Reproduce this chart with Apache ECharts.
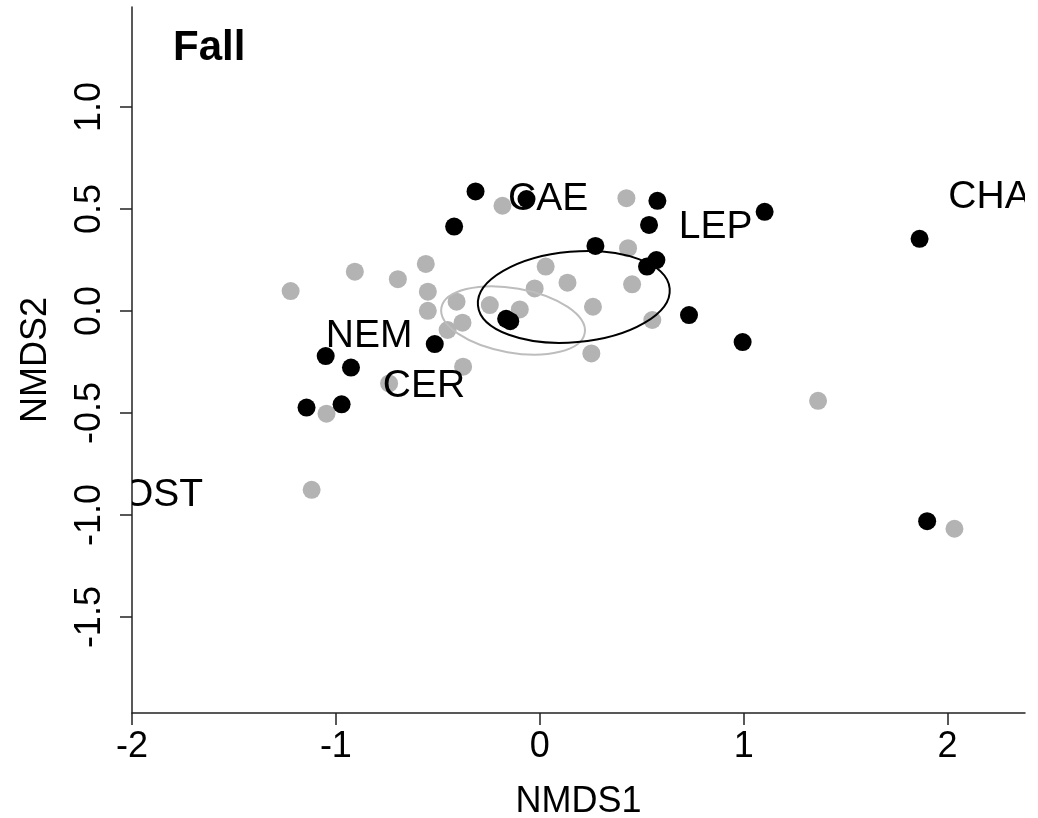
<!DOCTYPE html>
<html lang="en">
<head>
    <meta charset="UTF-8">
    <title>Fall NMDS</title>
    <script src="https://cdn.jsdelivr.net/npm/echarts@6/dist/echarts.min.js"></script>
    <style>
        body { margin: 0; background: #fff; }
        #chart { width: 1038px; height: 818px; }
    </style>
</head>
<body>
    <div id="chart"></div>
    <script>
        // site scores, grey group
        var grayX = [-1.222, -0.907, -0.696, -0.559, -0.549, -0.549, -0.408, -0.379, -0.452, -0.376,
                     -0.739, -1.046, -1.119, -0.183, 0.029, 0.136, -0.025, 0.261, -0.245, -0.098,
                     0.253, 0.425, 0.433, 0.453, 0.552, 1.365, 2.034];
        var grayY = [0.098, 0.193, 0.156, 0.231, 0.095, 0.001, 0.046, -0.057, -0.093, -0.273,
                     -0.355, -0.503, -0.876, 0.516, 0.218, 0.139, 0.111, 0.021, 0.029, 0.008,
                     -0.208, 0.553, 0.308, 0.131, -0.044, -0.44, -1.067];

        // site scores, black group
        var blackX = [-0.42, -0.315, -0.065, 0.273, -0.165, -0.145, -0.515, -1.05, -0.926, -1.144,
                      -0.972, 0.577, 0.536, 0.572, 0.526, 0.732, 0.995, 1.103, 1.863, 1.900];
        var blackY = [0.414, 0.586, 0.549, 0.319, -0.038, -0.05, -0.162, -0.221, -0.277, -0.473,
                      -0.457, 0.540, 0.422, 0.250, 0.218, -0.020, -0.152, 0.486, 0.354, -1.030];

        // species labels
        var speciesNames = ['CAE', 'LEP', 'CHA', 'NEM', 'CER', 'OST'];
        var speciesX = [0.041, 0.863, 2.206, -0.837, -0.568, -1.848];
        var speciesY = [0.549, 0.412, 0.557, -0.126, -0.367, -0.902];

        // group ellipses: centre x, centre y, semi axis a, semi axis b, angle (deg)
        var ellipseBlack = [0.167, 0.069, 0.472, 0.222, 5];
        var ellipseGray = [-0.131, -0.046, 0.357, 0.158, -10];

        var xTicks = [-2, -1, 0, 1, 2];
        var yTicks = [-1.5, -1, -0.5, 0, 0.5, 1];

        var FONT = 'Liberation Sans, Arial, sans-serif';

        function zip(xs, ys) {
            var out = [];
            for (var i = 0; i < xs.length; i++) out.push([xs[i], ys[i]]);
            return out;
        }

        function ellipseItem(params, api) {
            var c = api.coord([api.value(0), api.value(1)]);
            var s = api.size([api.value(2), api.value(3)]);
            return {
                type: 'ellipse',
                x: c[0],
                y: c[1],
                rotation: api.value(4) * Math.PI / 180,
                shape: { cx: 0, cy: 0, rx: s[0], ry: s[1] },
                style: { fill: 'none', stroke: api.visual('color'), lineWidth: 2 }
            };
        }

        var chart = echarts.init(document.getElementById('chart'));

        var axisCommon = {
            type: 'value',
            nameLocation: 'middle',
            nameTextStyle: { fontFamily: FONT, fontSize: 36, color: '#000' },
            axisLine: { show: true, onZero: false, lineStyle: { color: '#222', width: 1.5 } },
            axisTick: { show: true, length: 12, lineStyle: { color: '#222', width: 1.5 } },
            splitLine: { show: false },
            axisLabel: { fontFamily: FONT, fontSize: 36, color: '#000' }
        };

        var option = {
            animation: false,
            title: {
                text: 'Fall',
                left: 173,
                top: 27,
                padding: 0,
                textStyle: { fontFamily: FONT, fontSize: 42, fontWeight: 'bold', color: '#000' }
            },
            grid: { left: 132, right: 13, top: 7, bottom: 105, outerBoundsMode: 'none' },
            xAxis: echarts.util.merge({
                name: 'NMDS1',
                nameGap: 71,
                min: -2,
                max: 2.38,
                axisTick: { customValues: xTicks },
                axisLabel: { customValues: xTicks, margin: 16, formatter: function (v) { return String(v); } }
            }, axisCommon),
            yAxis: echarts.util.merge({
                name: 'NMDS2',
                nameGap: 78,
                min: -1.97,
                max: 1.49,
                axisTick: { customValues: yTicks },
                axisLabel: { customValues: yTicks, rotate: 90, margin: 24, formatter: function (v) { return v.toFixed(1); } }
            }, axisCommon),
            series: [
                {
                    type: 'scatter',
                    symbolSize: 18,
                    itemStyle: { color: '#b3b3b3', opacity: 1 },
                    data: zip(grayX, grayY)
                },
                {
                    type: 'scatter',
                    symbolSize: 18,
                    itemStyle: { color: '#000', opacity: 1 },
                    data: zip(blackX, blackY)
                },
                {
                    type: 'custom',
                    renderItem: ellipseItem,
                    itemStyle: { color: '#bdbdbd' },
                    data: [ellipseGray],
                    z: 3
                },
                {
                    type: 'custom',
                    renderItem: ellipseItem,
                    itemStyle: { color: '#000' },
                    data: [ellipseBlack],
                    z: 3
                },
                {
                    type: 'custom',
                    clip: true,
                    z: 4,
                    data: zip(speciesX, speciesY),
                    renderItem: function (params, api) {
                        var c = api.coord([api.value(0), api.value(1)]);
                        return {
                            type: 'text',
                            x: c[0],
                            y: c[1],
                            style: {
                                text: speciesNames[params.dataIndex],
                                fontFamily: FONT,
                                fontSize: 39,
                                fill: '#000',
                                align: 'center',
                                verticalAlign: 'middle'
                            }
                        };
                    }
                }
            ]
        };

        chart.setOption(option);
    </script>
</body>
</html>
